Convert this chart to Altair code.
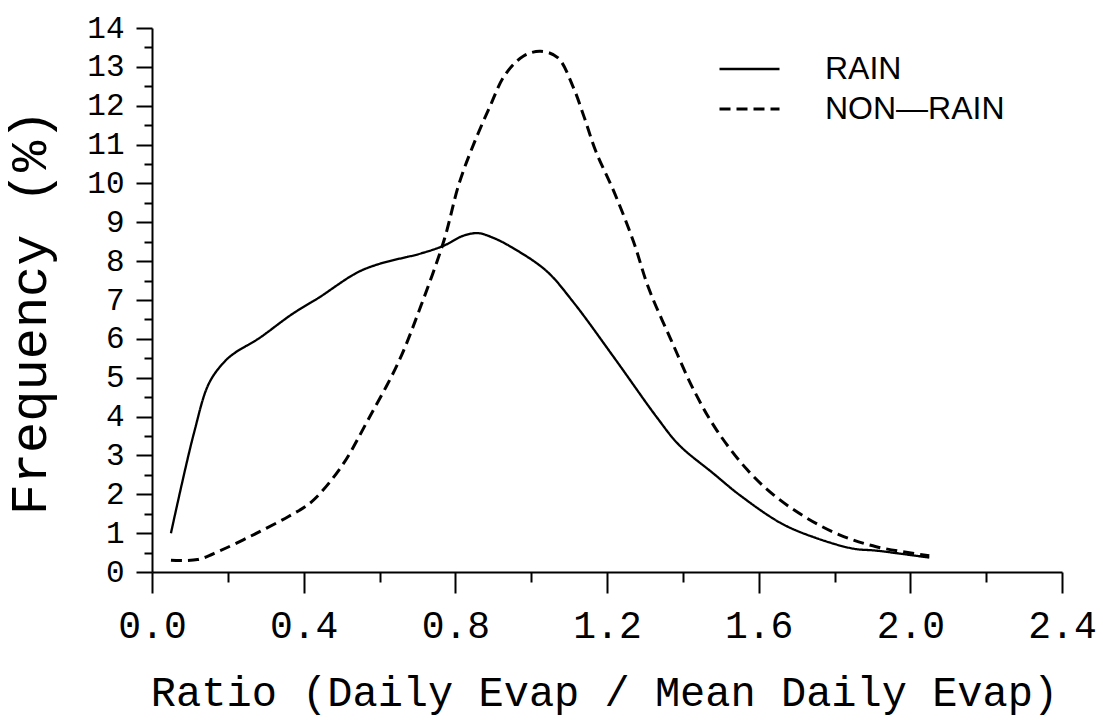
import altair as alt
import pandas as pd

# RAIN (solid) curve
rain_x = [0.05, 0.11, 0.15, 0.19, 0.22, 0.28, 0.37, 0.44, 0.54, 0.60, 0.71, 0.77,
          0.82, 0.86, 0.90, 0.95, 1.04, 1.11, 1.22, 1.33, 1.39, 1.48, 1.55, 1.66,
          1.75, 1.85, 1.91, 2.05]
rain_y = [1.0, 3.55, 4.85, 5.4, 5.65, 6.0, 6.64, 7.06, 7.7, 7.93, 8.2, 8.4,
          8.65, 8.72, 8.6, 8.35, 7.75, 6.96, 5.5, 4.0, 3.27, 2.54, 1.98, 1.25,
          0.88, 0.6, 0.55, 0.37]

# NON-RAIN (dashed) curve
non_x = [0.05, 0.12, 0.18, 0.27, 0.36, 0.42, 0.50, 0.57, 0.65, 0.71, 0.77, 0.81,
         0.85, 0.89, 0.93, 0.98, 1.025, 1.07, 1.11, 1.14, 1.17, 1.22, 1.27, 1.31,
         1.37, 1.43, 1.49, 1.57, 1.64, 1.72, 1.81, 1.91, 2.05]
non_y = [0.3, 0.32, 0.55, 0.97, 1.43, 1.8, 2.72, 3.92, 5.4, 6.87, 8.53, 10.0,
         11.05, 11.95, 12.78, 13.28, 13.4, 13.24, 12.5, 11.7, 10.84, 9.75, 8.5, 7.3,
         5.95, 4.66, 3.64, 2.63, 1.98, 1.43, 0.97, 0.65, 0.42]

series_names = ["RAIN", "NON\u2014RAIN"]

x_major = [0.0, 0.4, 0.8, 1.2, 1.6, 2.0, 2.4]
x_minor = [0.2, 0.6, 1.0, 1.4, 1.8, 2.2]
y_major = list(range(0, 15))
y_minor = [i + 0.5 for i in range(14)]

df = pd.concat([
    pd.DataFrame({"x": rain_x, "y": rain_y, "series": series_names[0], "order": range(len(rain_x))}),
    pd.DataFrame({"x": non_x, "y": non_y, "series": series_names[1], "order": range(len(non_x))}),
])

x_scale = alt.Scale(domain=[0, 2.4], nice=False, zero=False)
y_scale = alt.Scale(domain=[0, 14], nice=False, zero=False)

MONO = "Liberation Mono"

lines = alt.Chart(df).mark_line(
    interpolate="catmull-rom", color="black"
).encode(
    x=alt.X("x:Q", scale=x_scale, axis=alt.Axis(
        values=x_major, format=".1f", orient="bottom",
        tickSize=21, tickWidth=2, tickColor="black",
        domainColor="black", domainWidth=2,
        labelFont=MONO, labelFontSize=38, labelColor="black",
        labelBaseline="alphabetic", labelPadding=44,
        labelFlush=False, labelOverlap=False, labelBound=False,
        grid=False,
        title="Ratio (Daily Evap / Mean Daily Evap)",
        titleFont=MONO, titleFontSize=42, titleFontWeight="normal", titleColor="black",
        titleBaseline="alphabetic", titleAlign="center", titleX=452, titleY=133,
    )),
    y=alt.Y("y:Q", scale=y_scale, axis=alt.Axis(
        values=y_major, format="d", orient="left",
        tickSize=16, tickWidth=2, tickColor="black",
        domainColor="black", domainWidth=2,
        labelFont=MONO, labelFontSize=31, labelColor="black",
        labelBaseline="middle", labelPadding=12,
        labelFlush=False, labelOverlap=False, labelBound=False,
        grid=False,
        title="Frequency  (%)",
        titleFont=MONO, titleFontSize=52, titleFontWeight="normal", titleColor="black",
        titleAngle=270, titleBaseline="alphabetic", titleAlign="center",
        titleX=-107, titleY=284,
    )),
    strokeDash=alt.StrokeDash("series:N", scale=alt.Scale(
        domain=series_names, range=[[1, 0], [11, 6]]
    ), legend=alt.Legend(
        title=None, orient="none", legendX=566, legendY=25,
        symbolType="stroke", symbolSize=3600, symbolStrokeWidth=2.5,
        symbolStrokeColor="black",
        labelFont="Liberation Sans", labelFontSize=32, labelColor="black",
        labelOffset=44, clipHeight=32, rowPadding=8, padding=0,
        labelLimit=400,
    )),
    strokeWidth=alt.StrokeWidth("series:N", scale=alt.Scale(
        domain=series_names, range=[2.3, 3.0]
    ), legend=None),
    order="order:Q",
)

minor = alt.Chart(df).mark_point(opacity=0).encode(
    x=alt.X("x:Q", scale=x_scale, axis=alt.Axis(
        values=x_minor, orient="bottom", tickSize=10, tickWidth=2, tickColor="black",
        labels=False, domain=False, grid=False, title=None,
    )),
    y=alt.Y("y:Q", scale=y_scale, axis=alt.Axis(
        values=y_minor, orient="left", tickSize=8, tickWidth=2, tickColor="black",
        labels=False, domain=False, grid=False, title=None,
    )),
)

chart = alt.layer(lines, minor).resolve_axis(x="independent", y="independent").properties(
    width=910, height=544,
    autosize=alt.AutoSizeParams(type="none"),
    padding={"left": 152, "top": 28, "right": 41, "bottom": 149},
    background="white",
).configure_view(stroke=None)

chart.save("out.html", embed_options={"renderer": "svg", "actions": False})
